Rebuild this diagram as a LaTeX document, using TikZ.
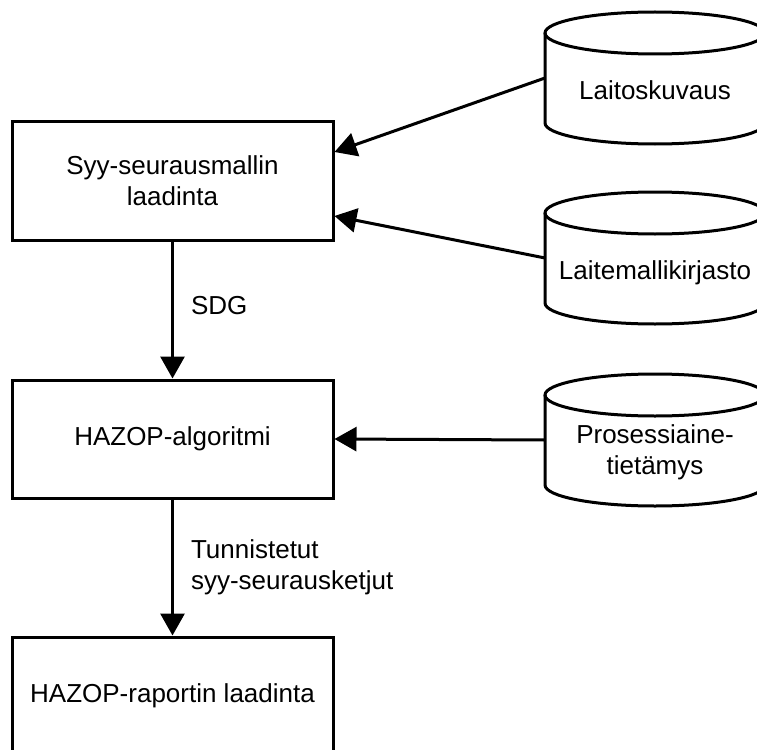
\documentclass[tikz,border=0pt]{standalone}
\usepackage{fontspec}
\setmainfont{Liberation Sans}
\usetikzlibrary{arrows.meta,positioning}

\begin{document}
\begin{tikzpicture}[x=1pt,y=-1pt,line width=3pt,
    font=\fontsize{26pt}{31pt}\selectfont,
    >={Triangle[length=22pt,width=24pt]},
    box/.style={draw,minimum width=321pt,minimum height=118pt,align=center,inner sep=0pt},
    store/.style={minimum width=220pt,minimum height=90pt,inner sep=0pt,outer sep=0pt},
    lab/.style={align=left,inner sep=3pt}]
  \clip (0,0) rectangle (757,749);
  \node[box] (syy) at (172.5,181) {Syy-seurausmallin\\laadinta};
  \node[box] (alg) at (172.5,439) {HAZOP-algoritmi};
  \node[box] (rap) at (172.5,696) {HAZOP-raportin laadinta};
  \node[store,label={[yshift=-12pt]center:Laitoskuvaus}] (lait) at (655,78) {};
  \node[store,label={[yshift=-15pt]center:Laitemallikirjasto}] (kirj) at (655,258) {};
  \node[store,label={[yshift=-12pt,align=center]center:Prosessiaine-\\tietämys}] (tiet) at (655,440) {};
  \foreach \c in {lait,kirj,tiet} {
    \draw (\c.north) ellipse [x radius=110pt,y radius=21pt];
    \draw (\c.north west) -- (\c.south west)
      arc[start angle=180,end angle=360,x radius=110pt,y radius=21pt] -- (\c.north east);
  }
  \draw[->] (syy) -- node[lab,right=14pt,yshift=4pt] {SDG} (alg);
  \draw[->] (alg) -- node[lab,right=14pt] {Tunnistetut\\syy-seurausketjut} (rap);
  \draw[->] (lait.west) -- ([yshift=29pt]syy.east);
  \draw[->] (kirj.west) -- ([yshift=-35pt]syy.east);
  \draw[->] (tiet.west) -- (alg.east);
\end{tikzpicture}
\end{document}
